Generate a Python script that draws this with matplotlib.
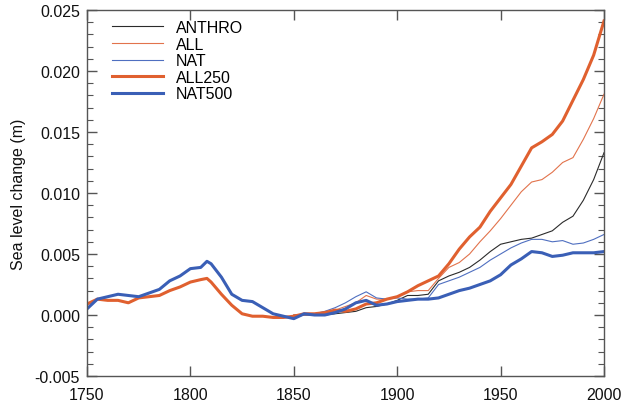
import matplotlib
matplotlib.use("Agg")
import matplotlib.pyplot as plt
from matplotlib.ticker import MultipleLocator, FormatStrFormatter

plt.rcParams['font.family'] = ['Liberation Sans', 'DejaVu Sans']

# long runs (thick lines), 1750-2000
years_long = [1750, 1755, 1760, 1765, 1770, 1775, 1780, 1785, 1790, 1795,
              1800, 1805, 1808, 1810, 1815, 1820, 1825, 1830, 1835, 1840,
              1845, 1850, 1855, 1860, 1865, 1870, 1875, 1880, 1885, 1890,
              1895, 1900, 1905, 1910, 1915, 1920, 1925, 1930, 1935, 1940,
              1945, 1950, 1955, 1960, 1965, 1970, 1975, 1980, 1985, 1990,
              1995, 2000]
all250 = [0.0009, 0.0013, 0.0012, 0.0012, 0.0010, 0.0014, 0.0015, 0.0016, 0.0020, 0.0023,
          0.0027, 0.0029, 0.0030, 0.0027, 0.0017, 0.0008, 0.0001, -0.0001, -0.0001, -0.0002,
          -0.0002, -0.0001, 0.0001, 0.0001, 0.0002, 0.0004, 0.0003, 0.0005, 0.0009, 0.0010,
          0.0013, 0.0015, 0.0019, 0.0024, 0.0028, 0.0032, 0.0042, 0.0054, 0.0064, 0.0072,
          0.0085, 0.0096, 0.0107, 0.0122, 0.0137, 0.0142, 0.0148, 0.0159, 0.0176, 0.0193,
          0.0213, 0.0241]
nat500 = [0.0005, 0.0013, 0.0015, 0.0017, 0.0016, 0.0015, 0.0018, 0.0021, 0.0028, 0.0032,
          0.0038, 0.0039, 0.0044, 0.0042, 0.0031, 0.0017, 0.0012, 0.0011, 0.0006, 0.0001,
          -0.0001, -0.0003, 0.0001, 0.0000, 0.0000, 0.0002, 0.0005, 0.0010, 0.0012, 0.0008,
          0.0009, 0.0011, 0.0012, 0.0013, 0.0013, 0.0014, 0.0017, 0.0020, 0.0022, 0.0025,
          0.0028, 0.0033, 0.0041, 0.0046, 0.0052, 0.0051, 0.0048, 0.0049, 0.0051, 0.0051,
          0.0051, 0.0052]

# short runs (thin lines), 1850-2000
years_short = list(range(1850, 2001, 5))
anthro = [0.0000, 0.0000, 0.0000, 0.0000, 0.0001, 0.0002, 0.0003, 0.0006, 0.0007, 0.0009,
          0.0012, 0.0016, 0.0016, 0.0017, 0.0028, 0.0032, 0.0035, 0.0039, 0.0045, 0.0052,
          0.0058, 0.0060, 0.0062, 0.0063, 0.0066, 0.0069, 0.0076, 0.0081, 0.0094, 0.0111,
          0.0133]
all_ = [0.0000, 0.0000, 0.0000, 0.0002, 0.0004, 0.0007, 0.0010, 0.0016, 0.0013, 0.0013,
        0.0015, 0.0019, 0.0020, 0.0020, 0.0030, 0.0039, 0.0043, 0.0050, 0.0060, 0.0069,
        0.0079, 0.0090, 0.0101, 0.0109, 0.0111, 0.0117, 0.0125, 0.0129, 0.0144, 0.0161,
        0.0181]
nat = [-0.0002, 0.0000, 0.0001, 0.0003, 0.0006, 0.0010, 0.0015, 0.0019, 0.0014, 0.0013,
       0.0014, 0.0013, 0.0013, 0.0014, 0.0025, 0.0028, 0.0031, 0.0035, 0.0039, 0.0045,
       0.0050, 0.0055, 0.0059, 0.0062, 0.0062, 0.0060, 0.0061, 0.0058, 0.0059, 0.0062,
       0.0066]

fig = plt.figure(figsize=(6.28, 4.02), dpi=100)
ax = fig.add_axes([87/628, 1-377/402, (604-87)/628, (377-11)/402])

ax.plot(years_short, anthro, color='#2b2b2b', lw=0.8, label='ANTHRO')
ax.plot(years_short, all_, color='#e2734c', lw=0.8, label='ALL')
ax.plot(years_short, nat, color='#4f6fc0', lw=0.8, label='NAT')
ax.plot(years_long, all250, color='#e0602f', lw=2.2, label='ALL250')
ax.plot(years_long, nat500, color='#3a5fb6', lw=2.2, label='NAT500')

ax.set_xlim(1750, 2000)
ax.set_ylim(-0.005, 0.025)
ax.xaxis.set_major_locator(MultipleLocator(50))
ax.yaxis.set_major_locator(MultipleLocator(0.005))
ax.yaxis.set_minor_locator(MultipleLocator(0.001))
ax.yaxis.set_major_formatter(FormatStrFormatter('%.3f'))
ax.tick_params(which='both', direction='in', top=True, right=True,
               color='#555555', labelsize=11.5, labelcolor='#111111')
ax.tick_params(which='major', length=7, width=1)
ax.tick_params(which='minor', length=4, width=0.8)
ax.tick_params(axis='x', pad=8)
ax.tick_params(axis='y', pad=5)
for s in ax.spines.values():
    s.set_color('#555555')
    s.set_linewidth(1)

ax.set_ylabel('Sea level change (m)', fontsize=11.5, color='#111111', labelpad=6)

ax.legend(loc='upper left', bbox_to_anchor=(112/628, 1-21/402),
          bbox_transform=fig.transFigure, frameon=False, fontsize=11.5,
          handlelength=3.2, handletextpad=0.8, labelspacing=0.1,
          borderpad=0, borderaxespad=0)

fig.savefig('out.png', dpi=100)
